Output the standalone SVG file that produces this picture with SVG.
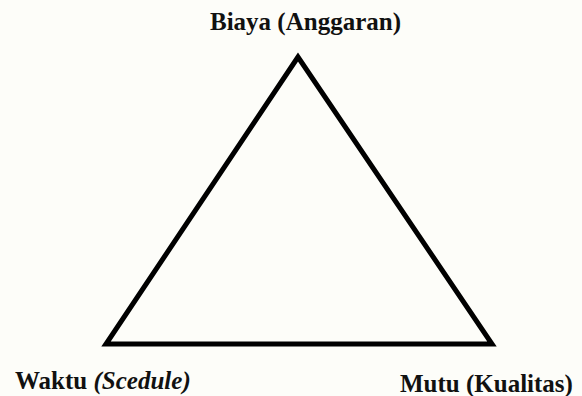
<svg xmlns="http://www.w3.org/2000/svg" width="582" height="396" viewBox="0 0 582 396">
  <style>
    .lbl { font-family: "Liberation Serif", "Times New Roman", serif; font-size: 25px; font-weight: bold; fill: #111; }
    .it { font-style: italic; }
    .tri { fill: none; stroke: #000; stroke-width: 5; stroke-linejoin: miter; }
  </style>
  <rect width="582" height="396" fill="#fdfdf9"/>
  <g id="connectors">
    <polygon class="tri" points="298,57 106,344 492,344"/>
  </g>
  <g id="biaya">
    <text class="lbl" x="210" y="30">Biaya (Anggaran)</text>
  </g>
  <g id="waktu">
    <text class="lbl" x="15" y="389">Waktu <tspan class="it">(Scedule)</tspan></text>
  </g>
  <g id="mutu">
    <text class="lbl" x="400" y="392">Mutu (Kualitas)</text>
  </g>
</svg>
